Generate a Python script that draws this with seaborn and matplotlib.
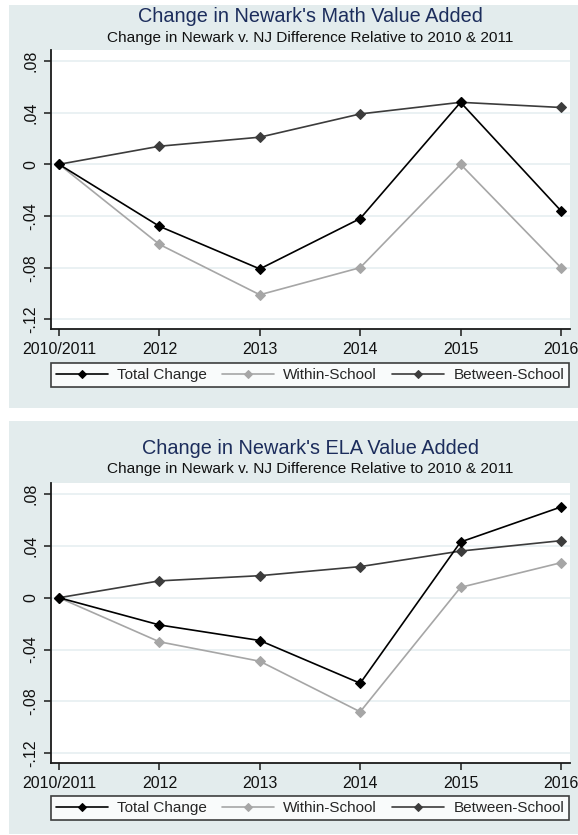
import matplotlib
matplotlib.use("Agg")
import matplotlib.pyplot as plt
from matplotlib.patches import Rectangle
import seaborn as sns
import pandas as pd

sns.set_style("white")
plt.rcParams["font.family"] = ["Liberation Sans", "DejaVu Sans"]

years = ["2010/2011", "2012", "2013", "2014", "2015", "2016"]
series_names = ["Total Change", "Within-School", "Between-School"]

math_total = [0.0, -0.048, -0.081, -0.042, 0.048, -0.036]
math_within = [0.0, -0.062, -0.101, -0.080, 0.000, -0.080]
math_between = [0.0, 0.014, 0.021, 0.039, 0.048, 0.044]

ela_total = [0.0, -0.021, -0.033, -0.066, 0.043, 0.070]
ela_within = [0.0, -0.034, -0.049, -0.088, 0.008, 0.027]
ela_between = [0.0, 0.013, 0.017, 0.024, 0.036, 0.044]

yticks = [0.08, 0.04, 0.0, -0.04, -0.08, -0.12]
ytick_labels = [".08", ".04", "0", "-.04", "-.08", "-.12"]

titles = ["Change in Newark's Math Value Added", "Change in Newark's ELA Value Added"]
subtitle = "Change in Newark v. NJ Difference Relative to 2010 & 2011"

palette = {"Total Change": "#000000", "Within-School": "#a6a6a6", "Between-School": "#3c3c3c"}
marker_sizes = {"Total Change": 5.5, "Within-School": 5, "Between-School": 5}

BG = "#e3eced"
GRID = "#e6eff1"
NAVY = "#1c2d5c"

W, H = 578, 835
fig = plt.figure(figsize=(W / 100, H / 100), dpi=100)


def fx(px):
    return px / W


def fy(py):
    return 1 - py / H


def build_frame(total, within, between):
    rows = []
    for name, vals in zip(series_names, [total, within, between]):
        for i, (yr, v) in enumerate(zip(years, vals)):
            rows.append({"pos": i, "year": yr, "value": v, "series": name})
    return pd.DataFrame(rows)


panels = [
    dict(ft=5, fb=408, pt=50, pb=329, ty=17, sy=38, lc=375,
         data=(math_total, math_within, math_between), title=titles[0]),
    dict(ft=421, fb=834, pt=483, pb=763, ty=448, sy=469, lc=808,
         data=(ela_total, ela_within, ela_between), title=titles[1]),
]

for p in panels:
    # panel background
    fig.patches.append(Rectangle((fx(9), fy(p["fb"])), fx(W - 9), (p["fb"] - p["ft"]) / H,
                                 transform=fig.transFigure, facecolor=BG, edgecolor="none",
                                 zorder=-5))
    left, right = 51, 570
    ax = fig.add_axes([fx(left), fy(p["pb"]), fx(right - left), (p["pb"] - p["pt"]) / H])
    ax.set_zorder(2)
    ax.set_facecolor("white")
    df = build_frame(*p["data"])
    for name in series_names:
        sub = df[df["series"] == name]
        sns.lineplot(data=sub, x="pos", y="value", ax=ax, color=palette[name],
                     marker="D", markersize=marker_sizes[name], markeredgecolor=palette[name],
                     linewidth=1.2, label=name, legend=False,
                     zorder=3 if name == "Total Change" else 2)

    ax.set_xlim(-0.08, 5.09)
    ax.set_ylim(-0.1275, 0.0885)
    ax.set_yticks(yticks)
    ax.set_yticklabels(ytick_labels, rotation=90, va="center", fontsize=11.5)
    ax.set_xticks(range(len(years)))
    ax.set_xticklabels(years, fontsize=11.5)
    ax.set_xlabel("")
    ax.set_ylabel("")
    for yv in yticks:
        ax.axhline(yv, color=GRID, linewidth=1.2, zorder=1)
    for s in ["top", "right"]:
        ax.spines[s].set_visible(False)
    for s in ["left", "bottom"]:
        ax.spines[s].set_color("#1a1a1a")
        ax.spines[s].set_linewidth(1.3)
    ax.tick_params(axis="both", direction="out", length=5, width=1.1, color="#1a1a1a",
                   labelcolor="#111111", pad=4, left=True, bottom=True)

    fig.text(0.5 * (left + right) / W, fy(p["ty"]), p["title"], ha="center", va="center",
             fontsize=14.3, color=NAVY)
    fig.text(0.5 * (left + right) / W, fy(p["sy"]), subtitle, ha="center", va="center",
             fontsize=11.1, color="#111111")

    handles, labels = ax.get_legend_handles_labels()
    leg = fig.legend(handles, labels, loc="center",
                     bbox_to_anchor=(fx(310), fy(p["lc"])),
                     ncol=3, frameon=True, fancybox=False, fontsize=11,
                     handlelength=3.4, borderpad=0.3, handletextpad=0.6, columnspacing=1.0,
                     borderaxespad=0)
    leg.get_frame().set_edgecolor("#111111")
    leg.get_frame().set_linewidth(1.2)
    leg.get_frame().set_facecolor("white")
    leg.set_zorder(3)
    for lh in leg.get_lines():
        lh.set_markersize(4.5)

fig.savefig("out.png", dpi=100, facecolor="white")
